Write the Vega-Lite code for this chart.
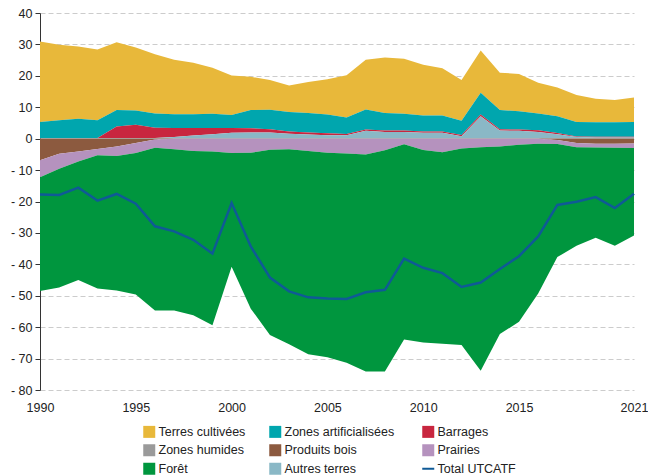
{
  "$schema": "https://vega.github.io/schema/vega-lite/v6.json",
  "description": "Émissions et absorptions UTCATF par catégorie, 1990-2021",
  "width": 594,
  "height": 377,
  "autosize": {"type": "none"},
  "padding": {"left": 40, "top": 13, "right": 14, "bottom": 85},
  "data": {
    "values": [
      {"annee": 1990, "Terres cultivées": 25.6, "Zones artificialisées": 5.1, "Barrages": 0, "Zones humides": 0.2, "Produits bois": -6.9, "Prairies": -5.4, "Forêt": -36.2, "Autres terres": 0, "Total UTCATF": -17.8},
      {"annee": 1991, "Terres cultivées": 24.0, "Zones artificialisées": 5.7, "Barrages": 0, "Zones humides": 0.2, "Produits bois": -4.8, "Prairies": -4.8, "Forêt": -37.8, "Autres terres": 0, "Total UTCATF": -17.9},
      {"annee": 1992, "Terres cultivées": 23.0, "Zones artificialisées": 6.1, "Barrages": 0, "Zones humides": 0.2, "Produits bois": -4.1, "Prairies": -3.2, "Forêt": -37.7, "Autres terres": 0, "Total UTCATF": -15.6},
      {"annee": 1993, "Terres cultivées": 22.5, "Zones artificialisées": 5.7, "Barrages": 0, "Zones humides": 0.2, "Produits bois": -3.3, "Prairies": -2.0, "Forêt": -42.4, "Autres terres": 0, "Total UTCATF": -19.7},
      {"annee": 1994, "Terres cultivées": 21.6, "Zones artificialisées": 5.2, "Barrages": 3.7, "Zones humides": 0.2, "Produits bois": -2.5, "Prairies": -3.0, "Forêt": -42.8, "Autres terres": 0, "Total UTCATF": -17.6},
      {"annee": 1995, "Terres cultivées": 20.0, "Zones artificialisées": 4.6, "Barrages": 4.2, "Zones humides": 0.2, "Produits bois": -1.4, "Prairies": -3.2, "Forêt": -45.0, "Autres terres": 0, "Total UTCATF": -20.7},
      {"annee": 1996, "Terres cultivées": 18.9, "Zones artificialisées": 4.5, "Barrages": 3.3, "Zones humides": 0.2, "Produits bois": -0.3, "Prairies": -2.6, "Forêt": -51.8, "Autres terres": 0, "Total UTCATF": -27.9},
      {"annee": 1997, "Terres cultivées": 17.3, "Zones artificialisées": 4.4, "Barrages": 2.9, "Zones humides": 0.2, "Produits bois": 0, "Prairies": -3.4, "Forêt": -51.3, "Autres terres": 0.3, "Total UTCATF": -29.5},
      {"annee": 1998, "Terres cultivées": 16.4, "Zones artificialisées": 4.4, "Barrages": 2.4, "Zones humides": 0.2, "Produits bois": 0, "Prairies": -3.9, "Forêt": -52.3, "Autres terres": 0.8, "Total UTCATF": -32.2},
      {"annee": 1999, "Terres cultivées": 14.7, "Zones artificialisées": 4.5, "Barrages": 2.0, "Zones humides": 0.2, "Produits bois": 0, "Prairies": -4.1, "Forêt": -55.3, "Autres terres": 1.2, "Total UTCATF": -36.6},
      {"annee": 2000, "Terres cultivées": 12.6, "Zones artificialisées": 4.1, "Barrages": 1.5, "Zones humides": 0.2, "Produits bois": 0, "Prairies": -4.6, "Forêt": -36.2, "Autres terres": 1.7, "Total UTCATF": -20.5},
      {"annee": 2001, "Terres cultivées": 10.6, "Zones artificialisées": 5.8, "Barrages": 1.3, "Zones humides": 0.2, "Produits bois": 0, "Prairies": -4.5, "Forêt": -49.6, "Autres terres": 1.8, "Total UTCATF": -34.3},
      {"annee": 2002, "Terres cultivées": 9.5, "Zones artificialisées": 6.2, "Barrages": 1.0, "Zones humides": 0.2, "Produits bois": 0, "Prairies": -3.5, "Forêt": -59.0, "Autres terres": 1.8, "Total UTCATF": -44.2},
      {"annee": 2003, "Terres cultivées": 8.4, "Zones artificialisées": 6.2, "Barrages": 0.7, "Zones humides": 0.2, "Produits bois": 0, "Prairies": -3.4, "Forêt": -62.0, "Autres terres": 1.4, "Total UTCATF": -48.6},
      {"annee": 2004, "Terres cultivées": 9.8, "Zones artificialisées": 6.2, "Barrages": 0.7, "Zones humides": 0.2, "Produits bois": 0, "Prairies": -3.9, "Forêt": -64.7, "Autres terres": 1.1, "Total UTCATF": -50.5},
      {"annee": 2005, "Terres cultivées": 11.2, "Zones artificialisées": 6.0, "Barrages": 0.6, "Zones humides": 0.2, "Produits bois": 0, "Prairies": -4.5, "Forêt": -65.1, "Autres terres": 0.9, "Total UTCATF": -50.9},
      {"annee": 2006, "Terres cultivées": 13.5, "Zones artificialisées": 5.2, "Barrages": 0.4, "Zones humides": 0.2, "Produits bois": 0, "Prairies": -4.7, "Forêt": -66.6, "Autres terres": 0.9, "Total UTCATF": -51.0},
      {"annee": 2007, "Terres cultivées": 15.8, "Zones artificialisées": 6.4, "Barrages": 0.4, "Zones humides": 0.2, "Produits bois": 0, "Prairies": -5.0, "Forêt": -69.1, "Autres terres": 2.3, "Total UTCATF": -48.9},
      {"annee": 2008, "Terres cultivées": 17.6, "Zones artificialisées": 5.6, "Barrages": 0.5, "Zones humides": 0.2, "Produits bois": 0, "Prairies": -3.7, "Forêt": -70.4, "Autres terres": 1.9, "Total UTCATF": -48.1},
      {"annee": 2009, "Terres cultivées": 17.5, "Zones artificialisées": 5.3, "Barrages": 0.5, "Zones humides": 0.2, "Produits bois": 0, "Prairies": -1.8, "Forêt": -62.1, "Autres terres": 1.9, "Total UTCATF": -38.2},
      {"annee": 2010, "Terres cultivées": 16.1, "Zones artificialisées": 5.1, "Barrages": 0.4, "Zones humides": 0.2, "Produits bois": 0, "Prairies": -3.6, "Forêt": -61.3, "Autres terres": 1.7, "Total UTCATF": -41.1},
      {"annee": 2011, "Terres cultivées": 15.0, "Zones artificialisées": 5.1, "Barrages": 0.4, "Zones humides": 0.2, "Produits bois": 0, "Prairies": -4.3, "Forêt": -61.0, "Autres terres": 1.7, "Total UTCATF": -42.8},
      {"annee": 2012, "Terres cultivées": 13.0, "Zones artificialisées": 4.5, "Barrages": 0.4, "Zones humides": 0.2, "Produits bois": 0, "Prairies": -3.1, "Forêt": -62.6, "Autres terres": 0.6, "Total UTCATF": -47.2},
      {"annee": 2013, "Terres cultivées": 13.5, "Zones artificialisées": 6.9, "Barrages": 0.6, "Zones humides": 0.2, "Produits bois": 0, "Prairies": -2.7, "Forêt": -71.2, "Autres terres": 6.9, "Total UTCATF": -45.8},
      {"annee": 2014, "Terres cultivées": 11.9, "Zones artificialisées": 6.1, "Barrages": 0.4, "Zones humides": 0.2, "Produits bois": 0, "Prairies": -2.5, "Forêt": -59.7, "Autres terres": 2.4, "Total UTCATF": -41.5},
      {"annee": 2015, "Terres cultivées": 11.9, "Zones artificialisées": 5.8, "Barrages": 0.4, "Zones humides": 0.2, "Produits bois": 0, "Prairies": -1.9, "Forêt": -56.4, "Autres terres": 2.3, "Total UTCATF": -37.4},
      {"annee": 2016, "Terres cultivées": 9.8, "Zones artificialisées": 5.3, "Barrages": 0.6, "Zones humides": 0.2, "Produits bois": 0, "Prairies": -1.6, "Forêt": -47.7, "Autres terres": 1.9, "Total UTCATF": -31.1},
      {"annee": 2017, "Terres cultivées": 9.2, "Zones artificialisées": 5.3, "Barrages": 0.4, "Zones humides": 0.2, "Produits bois": -0.4, "Prairies": -1.3, "Forêt": -36.0, "Autres terres": 1.2, "Total UTCATF": -21.1},
      {"annee": 2018, "Terres cultivées": 8.6, "Zones artificialisées": 4.6, "Barrages": 0.2, "Zones humides": 0.2, "Produits bois": -1.4, "Prairies": -1.3, "Forêt": -31.4, "Autres terres": 0.3, "Total UTCATF": -20.1},
      {"annee": 2019, "Terres cultivées": 7.5, "Zones artificialisées": 4.6, "Barrages": 0.2, "Zones humides": 0.2, "Produits bois": -1.6, "Prairies": -1.2, "Forêt": -28.7, "Autres terres": 0.2, "Total UTCATF": -18.6},
      {"annee": 2020, "Terres cultivées": 7.1, "Zones artificialisées": 4.6, "Barrages": 0.2, "Zones humides": 0.2, "Produits bois": -1.6, "Prairies": -1.3, "Forêt": -31.2, "Autres terres": 0.2, "Total UTCATF": -22.1},
      {"annee": 2021, "Terres cultivées": 7.8, "Zones artificialisées": 4.7, "Barrages": 0.2, "Zones humides": 0.2, "Produits bois": -1.5, "Prairies": -1.5, "Forêt": -27.8, "Autres terres": 0.2, "Total UTCATF": -17.5}
    ]
  },
  "transform": [
    {"fold": ["Terres cultivées", "Zones artificialisées", "Barrages", "Zones humides", "Produits bois", "Prairies", "Forêt", "Autres terres", "Total UTCATF"], "as": ["categorie", "valeur"]},
    {"calculate": "indexof(['Produits bois', 'Prairies', 'Forêt', 'Zones humides', 'Autres terres', 'Barrages', 'Zones artificialisées', 'Terres cultivées', 'Total UTCATF'], datum.categorie)", "as": "ordre"}
  ],
  "encoding": {
    "x": {
      "field": "annee",
      "type": "quantitative",
      "scale": {"domain": [1990, 2021], "nice": false, "zero": false},
      "axis": {
        "title": null,
        "values": [1990, 1995, 2000, 2005, 2010, 2015, 2021],
        "format": "d",
        "grid": false,
        "ticks": false,
        "domain": false,
        "labelFlush": false,
        "labelPadding": 11
      }
    }
  },
  "layer": [
    {
      "transform": [{"filter": "datum.categorie !== 'Total UTCATF'"}],
      "mark": {"type": "area", "interpolate": "linear"},
      "encoding": {
        "y": {
          "field": "valeur",
          "type": "quantitative",
          "stack": "zero",
          "scale": {"domain": [-80, 40], "nice": false},
          "axis": {
            "title": null,
            "values": [-80, -70, -60, -50, -40, -30, -20, -10, 0, 10, 20, 30, 40],
            "labelExpr": "datum.value < 0 ? '- ' + abs(datum.value) : '' + datum.value",
            "labelOverlap": false,
            "grid": true,
            "gridDash": [5, 3],
            "gridColor": "#cccccc",
            "domainColor": "#333333",
            "tickColor": "#333333",
            "tickSize": 5,
            "labelPadding": 3
          }
        },
        "color": {
          "field": "categorie",
          "type": "nominal",
          "scale": {
            "domain": ["Terres cultivées", "Zones artificialisées", "Barrages", "Zones humides", "Produits bois", "Prairies", "Forêt", "Autres terres", "Total UTCATF"],
            "range": ["#e8b83a", "#00a6ae", "#c8263f", "#9a9a9a", "#8c5a3f", "#b592be", "#00963e", "#8ab8c6", "#0f5a96"]
          },
          "legend": {
            "title": null,
            "orient": "none",
            "legendX": 103,
            "legendY": 412.5,
            "columns": 3,
            "direction": "horizontal",
            "padding": 0,
            "symbolType": "square",
            "symbolSize": 144,
            "symbolStrokeWidth": 0,
            "labelFontSize": 12.5,
            "labelColor": "#222222",
            "labelOffset": 3,
            "rowPadding": 5.5,
            "columnPadding": 23,
            "encode": {
              "symbols": {
                "update": {
                  "shape": {"signal": "datum.value === 'Total UTCATF' ? 'stroke' : 'square'"},
                  "fill": {"signal": "datum.value === 'Total UTCATF' ? 'transparent' : scale('color', datum.value)"},
                  "stroke": {"signal": "datum.value === 'Total UTCATF' ? scale('color', datum.value) : 'transparent'"},
                  "strokeWidth": {"signal": "datum.value === 'Total UTCATF' ? 2 : 0"},
                  "opacity": {"value": 1}
                }
              }
            }
          }
        },
        "order": {"field": "ordre", "type": "quantitative"}
      }
    },
    {
      "mark": {"type": "rule", "color": "#3c474d", "strokeWidth": 1.5},
      "encoding": {
        "y": {
          "datum": 0,
          "type": "quantitative",
          "axis": {
            "title": null,
            "values": [-80, -70, -60, -50, -40, -30, -20, -10, 0, 10, 20, 30, 40],
            "labelExpr": "datum.value < 0 ? '- ' + abs(datum.value) : '' + datum.value",
            "labelOverlap": false,
            "grid": true,
            "gridDash": [5, 3],
            "gridColor": "#cccccc",
            "domainColor": "#333333",
            "tickColor": "#333333",
            "tickSize": 5,
            "labelPadding": 3
          }
        }
      }
    },
    {
      "transform": [{"filter": "datum.categorie === 'Total UTCATF'"}],
      "mark": {"type": "line", "strokeWidth": 2.5},
      "encoding": {
        "y": {
          "field": "valeur",
          "type": "quantitative",
          "axis": {
            "title": null,
            "values": [-80, -70, -60, -50, -40, -30, -20, -10, 0, 10, 20, 30, 40],
            "labelExpr": "datum.value < 0 ? '- ' + abs(datum.value) : '' + datum.value",
            "labelOverlap": false,
            "grid": true,
            "gridDash": [5, 3],
            "gridColor": "#cccccc",
            "domainColor": "#333333",
            "tickColor": "#333333",
            "tickSize": 5,
            "labelPadding": 3
          }
        },
        "color": {"field": "categorie", "type": "nominal"}
      }
    }
  ],
  "config": {
    "font": "Liberation Sans",
    "view": {"stroke": null},
    "axis": {"labelFontSize": 12.5, "labelColor": "#222222", "labelFont": "Liberation Sans"},
    "legend": {"labelFont": "Liberation Sans"}
  }
}
